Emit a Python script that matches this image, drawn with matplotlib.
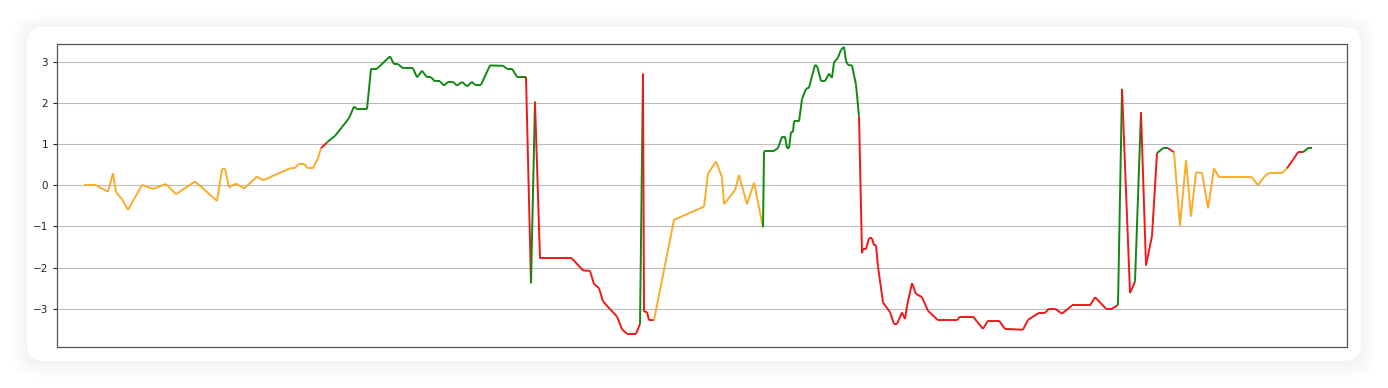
import matplotlib

matplotlib.use("Agg")

import numpy as np
import matplotlib.pyplot as plt
from matplotlib.collections import LineCollection
from matplotlib.patches import FancyBboxPatch

# time steps and signal values
steps = [
    0, 12, 24, 29, 32, 38, 44, 58, 69, 82, 92, 111, 133, 138, 141, 145, 152, 160,
    173, 179, 206, 211, 215, 220, 224, 229, 234, 237, 243, 251, 258, 265, 270,
    273, 283, 287, 293, 306, 310, 314, 319, 329, 333, 338, 343, 347, 351, 356,
    360, 364, 369, 373, 378, 383, 388, 391, 397, 406, 419, 423, 428, 433, 442,
    447, 451, 456, 488, 499, 506, 510, 515, 519, 526, 533, 538, 543, 552, 556,
    559, 560, 563, 565, 570, 590, 620, 624, 632, 638, 640, 651, 655, 663, 670,
    679, 680, 689, 694, 698, 701, 703, 705, 707, 709, 710, 715, 718, 722, 725,
    731, 733, 737, 741, 745, 748, 750, 754, 757, 760, 762, 764, 768, 772, 775,
    778, 779, 782, 785, 788, 790, 792, 794, 799, 806, 810, 813, 818, 821, 823,
    828, 832, 838, 844, 854, 873, 876, 889, 893, 899, 904, 915, 921, 939, 944,
    955, 961, 965, 971, 978, 988, 1006, 1011, 1022, 1028, 1034, 1038, 1046,
    1051, 1057, 1062, 1068, 1073, 1079, 1084, 1090, 1096, 1102, 1107, 1112,
    1118, 1124, 1130, 1135, 1168, 1174, 1180, 1185, 1198, 1203, 1209, 1214,
    1219, 1224, 1228,
]
signal = [
    0.00, 0.00, -0.16, 0.29, -0.17, -0.34, -0.60, 0.01, -0.09, 0.03, -0.22, 0.09,
    -0.38, 0.39, 0.40, -0.05, 0.04, -0.08, 0.21, 0.12, 0.41, 0.42, 0.52, 0.52,
    0.41, 0.41, 0.66, 0.90, 1.04, 1.20, 1.41, 1.63, 1.91, 1.85, 1.85, 2.83, 2.83,
    3.13, 2.94, 2.94, 2.84, 2.84, 2.62, 2.78, 2.62, 2.62, 2.52, 2.52, 2.42, 2.51,
    2.51, 2.42, 2.51, 2.40, 2.51, 2.44, 2.44, 2.91, 2.90, 2.83, 2.83, 2.63, 2.63,
    -2.38, 2.03, -1.78, -1.78, -2.07, -2.08, -2.40, -2.50, -2.82, -3.01, -3.19,
    -3.50, -3.61, -3.61, -3.37, 2.71, -3.07, -3.08, -3.28, -3.28, -0.84, -0.52,
    0.28, 0.58, 0.19, -0.46, -0.12, 0.25, -0.46, 0.06, -1.02, 0.82, 0.82, 0.90,
    1.18, 1.18, 0.90, 0.90, 1.29, 1.29, 1.55, 1.55, 2.09, 2.34, 2.37, 2.92, 2.90,
    2.53, 2.53, 2.71, 2.61, 2.98, 3.10, 3.29, 3.36, 3.02, 2.92, 2.91, 2.44, 1.67,
    -1.65, -1.55, -1.55, -1.29, -1.29, -1.46, -1.46, -1.98, -2.85, -3.08, -3.37,
    -3.37, -3.09, -3.25, -2.93, -2.38, -2.64, -2.72, -3.05, -3.28, -3.28, -3.19,
    -3.19, -3.31, -3.49, -3.29, -3.29, -3.49, -3.51, -3.27, -3.10, -3.10, -3.00,
    -3.00, -3.12, -2.92, -2.92, -2.72, -3.00, -3.00, -2.91, 2.34, -2.62, -2.34,
    1.77, -1.95, -1.23, 0.78, 0.90, 0.90, 0.80, -0.98, 0.60, -0.76, 0.31, 0.30,
    -0.56, 0.41, 0.19, 0.19, 0.00, 0.20, 0.30, 0.30, 0.41, 0.62, 0.80, 0.80,
    0.90, 0.90,
]
# regime of each segment, as (regime, number of segments) runs
regime_runs = [
    ("neutral", 27), ("bear", 1), ("bull", 34), ("bear", 1), ("bull", 1),
    ("bear", 13), ("bull", 1), ("bear", 4), ("neutral", 11), ("bull", 29),
    ("bear", 41), ("bull", 1), ("bear", 2), ("bull", 1), ("bear", 3),
    ("bull", 2), ("bear", 1), ("neutral", 14), ("bear", 3), ("bull", 2),
]
yticks = [-3, -2, -1, 0, 1, 2, 3]

regime_colors = {"bull": "#118811", "bear": "#f01818", "neutral": "#f8ac2a"}

regimes = []
for name, count in regime_runs:
    regimes += [name] * count

x = np.array(steps, dtype=float)
y = np.array(signal)
points = np.column_stack([x, y]).reshape(-1, 1, 2)
segments = np.concatenate([points[:-1], points[1:]], axis=1)
colors = [regime_colors[r] for r in regimes]

fig = plt.figure(figsize=(13.88, 3.88), dpi=100)
fig.patch.set_facecolor("white")

# card with a soft shadow behind the axes
for i in range(6):
    pad = 14 - i * 2.5
    fig.patches.append(FancyBboxPatch(
        ((27 - pad) / 1388, 1 - (363 + pad) / 388),
        (1334 + 2 * pad) / 1388, (334 + 2 * pad) / 388,
        boxstyle="round,pad=0,rounding_size=0.014",
        transform=fig.transFigure, facecolor="black", edgecolor="none",
        alpha=0.008, mutation_aspect=1388 / 388, zorder=-3))
fig.patches.append(FancyBboxPatch(
    (27 / 1388, 1 - 361 / 388), 1334 / 1388, 334 / 388,
    boxstyle="round,pad=0,rounding_size=0.012",
    transform=fig.transFigure, facecolor="white", edgecolor="none",
    mutation_aspect=1388 / 388, zorder=-2))

ax = fig.add_axes([57 / 1388, 1 - 347 / 388, 1289.5 / 1388, 303 / 388])
ax.set_zorder(1)
ax.set_facecolor("white")
lc = LineCollection(segments, colors=colors, linewidths=1.4)
ax.add_collection(lc)

ax.set_xlim(-27, 1262.5)
ax.set_ylim(-3.93, 3.43)
ax.set_xticks([])
ax.set_yticks(yticks)
ax.tick_params(axis="y", labelsize=7.5, length=3, colors="#222222")
ax.grid(axis="y", color="#bbbbbb", linewidth=0.8)
ax.set_axisbelow(True)
for s in ax.spines.values():
    s.set_color("#555555")
    s.set_linewidth(0.9)

plt.savefig("out.png", dpi=100)
plt.close()
